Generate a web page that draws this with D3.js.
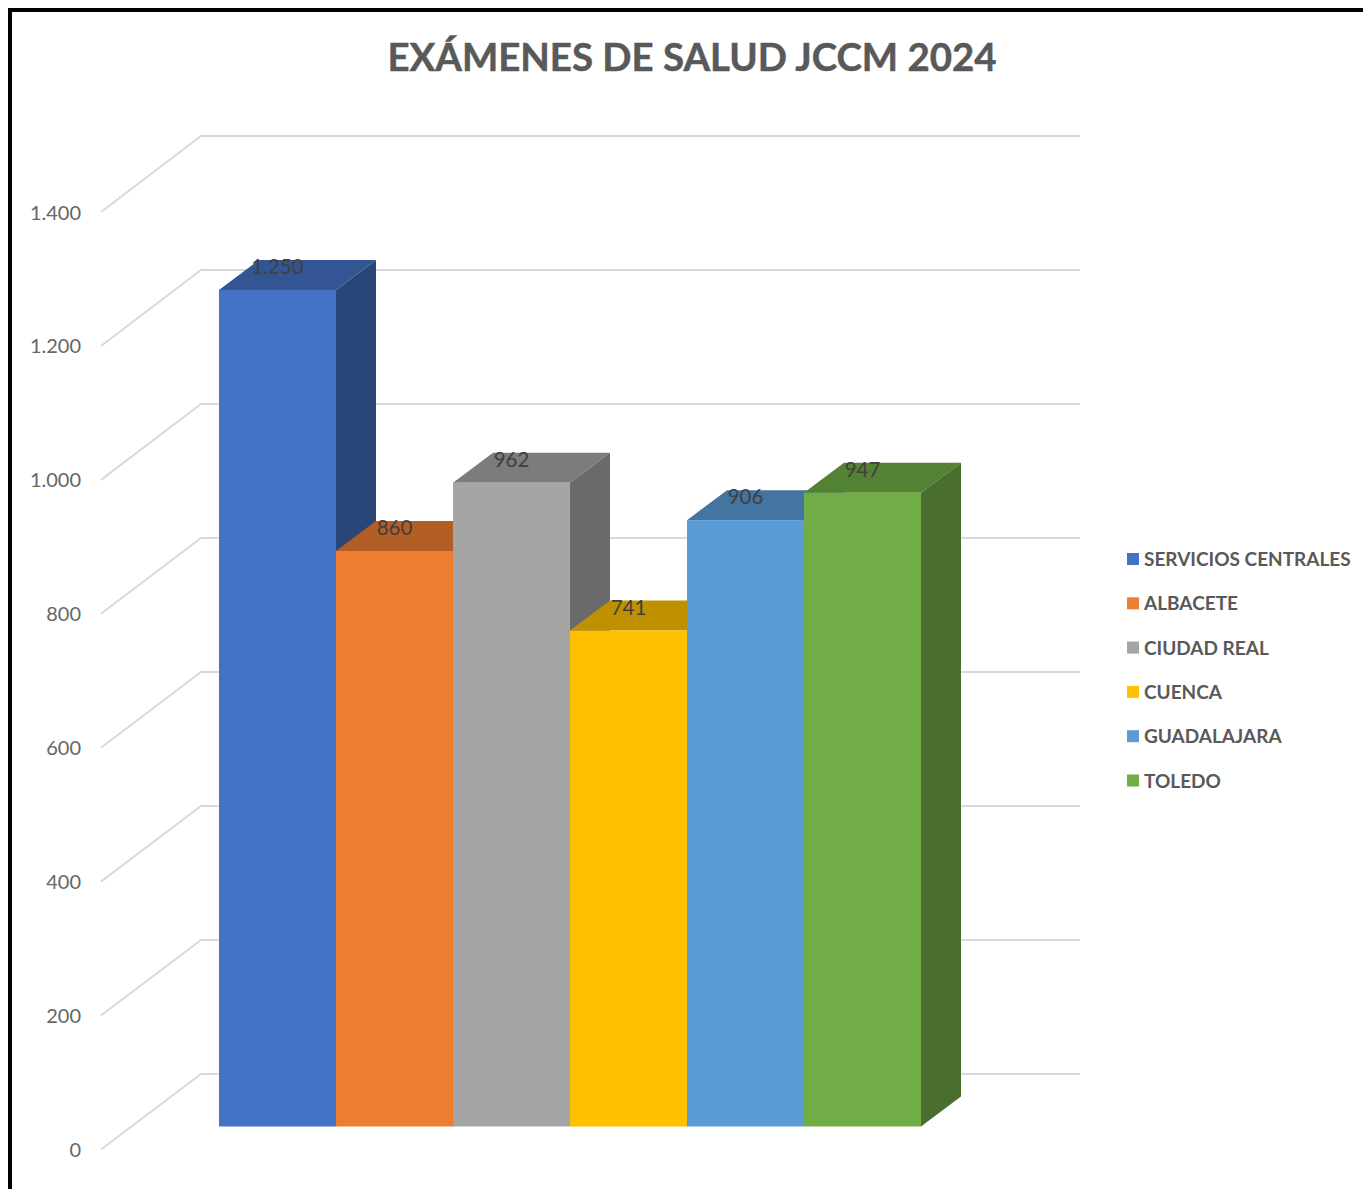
<!DOCTYPE html>
<html><head><meta charset="utf-8">
<script src="https://cdn.jsdelivr.net/npm/d3@7"></script>
<style>
html,body{margin:0;padding:0;background:#fff}
svg{display:block}
text{font-family:Lato,"Open Sans",sans-serif}
</style></head><body>
<svg id="c" width="1363" height="1189"></svg>
<script>
const titleText = "EXÁMENES DE SALUD JCCM 2024";
const categories = ["SERVICIOS CENTRALES","ALBACETE","CIUDAD REAL","CUENCA","GUADALAJARA","TOLEDO"];
const values = [1250,860,962,741,906,947];
const valueLabels = ["1.250","860","962","741","906","947"];
const frontColors = ["#4472C4","#ED7D31","#A5A5A5","#FFC000","#5B9BD5","#70AD47"];
const topColors = ["#335593","#B25E25","#7C7C7C","#BF9000","#4474A0","#548235"];
const sideColors = ["#2A4678","#914C1E","#6A6A6A","#9C7600","#385F83","#4A6E2E"];
const ticks = [0,200,400,600,800,1000,1200,1400];
const tickLabels = ["0","200","400","600","800","1.000","1.200","1.400"];

const svg = d3.select("#c");
const yBar = d3.scaleLinear().domain([0,1400]).range([1126.5,189.5]);
const yWall = d3.scaleLinear().domain([0,1400]).range([1074,136]);
const yAxisFront = d3.scaleLinear().domain([0,1400]).range([1149.5,212]);
const x = d3.scaleBand().domain(categories).range([219,921]).padding(0);
const depthX = 40, depthY = 30;
const wallLeft = 201, wallRight = 1080, sideLeft = 101;

// frame
svg.append("path").attr("d","M10,1189V10H1363").attr("fill","none").attr("stroke","#000").attr("stroke-width",4);

// title
svg.append("text").attr("x",692).attr("y",71).attr("text-anchor","middle")
  .attr("font-size",38.4).attr("font-weight",700).attr("fill","#595959")
  .attr("stroke","#595959").attr("stroke-width",0.5).text(titleText);

// gridlines
const grid = svg.append("g").attr("fill","none").attr("stroke","#D9D9D9").attr("stroke-width",2);
ticks.forEach(t=>{
  grid.append("path").attr("d",`M${sideLeft},${yAxisFront(t)}L${wallLeft},${yWall(t)}H${wallRight}`);
});

// y tick labels
svg.append("g").selectAll("text").data(ticks).join("text")
  .attr("x",81).attr("y",t=>yAxisFront(t)+7.5).attr("text-anchor","end")
  .attr("font-size",20).attr("fill","#666").text((t,i)=>tickLabels[i]);

// bars
const bars = svg.append("g").selectAll("g").data(categories).join("g");
bars.each(function(c,i){
  const g = d3.select(this), x0 = x(c), w = x.bandwidth(), x1 = x0+w, yt = yBar(values[i]), yb = yBar(0);
  g.append("path").attr("fill",topColors[i])
    .attr("d",`M${x0},${yt}L${x0+depthX},${yt-depthY}H${x1+depthX}L${x1},${yt}Z`);
  g.append("path").attr("fill",sideColors[i])
    .attr("d",`M${x1},${yt}L${x1+depthX},${yt-depthY}V${yb-depthY}L${x1},${yb}Z`);
  g.append("rect").attr("x",x0).attr("y",yt).attr("width",w).attr("height",yb-yt).attr("fill",frontColors[i]);
});

// data labels
svg.append("g").selectAll("text").data(categories).join("text")
  .attr("x",c=>x(c)+x.bandwidth()/2)
  .attr("y",(c,i)=>yBar(values[i])-16)
  .attr("text-anchor","middle").attr("font-size",20.5).attr("fill","#404040")
  .text((c,i)=>valueLabels[i]);

// legend
const legendY = d3.scalePoint().domain(categories).range([559,780.5]);
const legend = svg.append("g").selectAll("g").data(categories).join("g");
legend.append("rect").attr("x",1127).attr("y",c=>legendY(c)-6).attr("width",12).attr("height",12)
  .attr("fill",(c,i)=>frontColors[i]);
legend.append("text").attr("x",1144).attr("y",c=>legendY(c)+7)
  .attr("font-size",19).attr("font-weight",700).attr("fill","#595959").text(c=>c);
</script>
</body></html>
